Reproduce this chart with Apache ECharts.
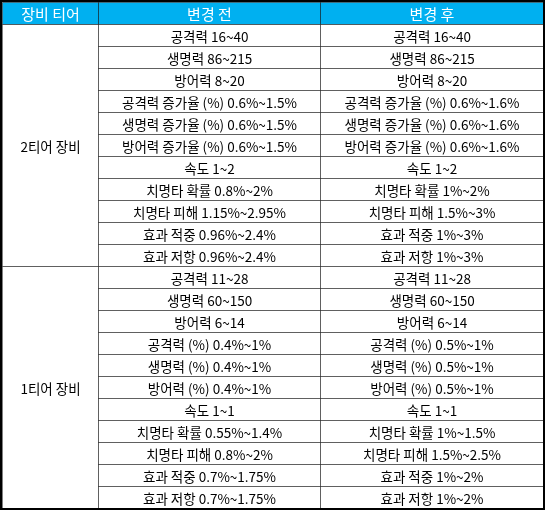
<!DOCTYPE html>
<html><head><meta charset="utf-8">
<script src="https://cdn.jsdelivr.net/npm/echarts@6/dist/echarts.min.js"></script>
<style>html,body{margin:0;padding:0;background:#fff}#c{width:545px;height:510px}</style>
</head><body><div id="c"></div>
<script>
const headers = ['장비 티어', '변경 전', '변경 후'];
const tiers = ['2티어 장비', '1티어 장비'];
const before2 = ['공격력 16~40','생명력 86~215','방어력 8~20','공격력 증가율 (%) 0.6%~1.5%','생명력 증가율 (%) 0.6%~1.5%','방어력 증가율 (%) 0.6%~1.5%','속도 1~2','치명타 확률 0.8%~2%','치명타 피해 1.15%~2.95%','효과 적중 0.96%~2.4%','효과 저항 0.96%~2.4%'];
const after2 = ['공격력 16~40','생명력 86~215','방어력 8~20','공격력 증가율 (%) 0.6%~1.6%','생명력 증가율 (%) 0.6%~1.6%','방어력 증가율 (%) 0.6%~1.6%','속도 1~2','치명타 확률 1%~2%','치명타 피해 1.5%~3%','효과 적중 1%~3%','효과 저항 1%~3%'];
const before1 = ['공격력 11~28','생명력 60~150','방어력 6~14','공격력 (%) 0.4%~1%','생명력 (%) 0.4%~1%','방어력 (%) 0.4%~1%','속도 1~1','치명타 확률 0.55%~1.4%','치명타 피해 0.8%~2%','효과 적중 0.7%~1.75%','효과 저항 0.7%~1.75%'];
const after1 = ['공격력 11~28','생명력 60~150','방어력 6~14','공격력 (%) 0.5%~1%','생명력 (%) 0.5%~1%','방어력 (%) 0.5%~1%','속도 1~1','치명타 확률 1%~1.5%','치명타 피해 1.5%~2.5%','효과 적중 1%~2%','효과 저항 1%~2%'];

const colX = [0, 96, 318, 541];
const cells = [];
headers.forEach((h, i) => cells.push([colX[i], 0, colX[i+1], 1, h, 1]));
const groups = [[tiers[0], before2, after2], [tiers[1], before1, after1]];
let r = 1;
groups.forEach(g => {
  cells.push([colX[0], r, colX[1], r + g[1].length, g[0], 0]);
  g[1].forEach((t, k) => {
    cells.push([colX[1], r + k, colX[2], r + k + 1, t, 0]);
    cells.push([colX[2], r + k, colX[3], r + k + 1, g[2][k], 0]);
  });
  r += g[1].length;
});
const FONT = '"Noto Sans CJK KR", sans-serif';
const chart = echarts.init(document.getElementById('c'));
chart.setOption({
  animation: false,
  grid: {left: 2, right: 2, top: 2, bottom: 2},
  xAxis: {type: 'value', min: 0, max: 541, show: false},
  yAxis: {type: 'value', min: 0, max: r, inverse: true, show: false},
  series: [{
    type: 'custom',
    data: cells,
    renderItem: (params, api) => {
      const p0 = api.coord([api.value(0), api.value(1)]);
      const p1 = api.coord([api.value(2), api.value(3)]);
      const hdr = api.value(5) === 1;
      const x = Math.round(p0[0]) + 0.5, y = Math.round(p0[1]) + 0.5;
      const w = Math.round(p1[0]) - Math.round(p0[0]), h = Math.round(p1[1]) - Math.round(p0[1]);
      return {type: 'group', children: [
        {type: 'rect', shape: {x, y, width: w, height: h},
         style: {fill: hdr ? '#00B0F0' : '#fff', stroke: '#000', lineWidth: 1, lineDash: [1, 1]}},
        {type: 'text', style: {x: x + w / 2, y: y + h / 2 + 1, text: api.value(4), align: 'center', verticalAlign: 'middle',
          fill: hdr ? '#fff' : '#000', font: (hdr ? '15px ' : '13.5px ') + FONT}}
      ]};
    }
  }],
  graphic: [{type: 'rect', shape: {x: 1, y: 1, width: 543, height: 508}, style: {fill: 'none', stroke: '#000', lineWidth: 2}, z: 100}]
});
</script></body></html>
